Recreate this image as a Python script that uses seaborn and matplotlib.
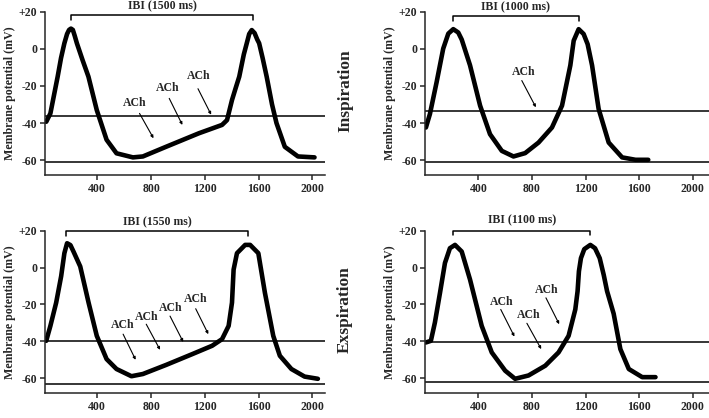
import matplotlib
matplotlib.use('Agg')
import matplotlib.pyplot as plt
import seaborn as sns
import pandas as pd

# ---- data ----
# top left: inspiration, IBI 1500 ms
insp_a_t = [20, 51, 105, 130, 155, 175, 190, 204, 218, 232, 248, 290, 334, 396, 469, 543, 665, 739, 911,
            1156, 1328, 1365, 1402, 1430, 1456, 1490, 1512, 1530, 1549, 1570, 1590, 1604, 1630, 1660,
            1700, 1733, 1795, 1893, 2016]
insp_a_v = [-39.3, -34.8, -15, -5, 3, 8, 10.2, 10.9, 10.2, 7, 3, -6, -15, -33, -49, -56.3, -58.5, -58, -52.8,
            -45.5, -41, -38.4, -27.6, -21, -15, -3, 3, 8, 10.1, 8.5, 5, 3, -5, -15,
            -30, -40, -52.8, -58, -58.5]
insp_a_levels = [-36.2, -60.9]
insp_a_bracket = [204, 1560]
insp_a_ach_text = [(678, -29.4), (923, -21.3), (1156, -14.7)]
insp_a_ach_arrow = [(714, -34.8, 818, -48.2), (935, -26.7, 1033, -41), (1149, -21.5, 1247, -35.5)]

# top right: inspiration, IBI 1000 ms
insp_b_t = [9, 39, 89, 138, 176, 213, 250, 276, 338, 413, 487, 575, 662, 749, 849, 949, 1024,
            1086, 1111, 1148, 1185, 1215, 1248, 1297, 1372, 1472, 1572, 1667]
insp_b_v = [-42.4, -35.1, -17.9, 0.1, 8.2, 10.6, 8.8, 5, -8.9, -30.6, -46, -55, -58, -56.2, -50.5, -42.4, -30.6,
            -8.9, 4.4, 10.6, 8, 2.5, -8.9, -32.4, -50.5, -58.5, -59.8, -59.8]
insp_b_levels = [-33.3, -60.8]
insp_b_bracket = [209, 1148]
insp_b_ach_text = [(736, -12.5)]
insp_b_ach_arrow = [(724, -17.1, 829, -31.5)]

# bottom left: expiration, IBI 1550 ms
exp_a_t = [20, 51, 94, 131, 155, 175, 200, 224, 273, 335, 396, 469, 543, 654, 739, 911, 1107,
           1254, 1328, 1377, 1402, 1414, 1439, 1500, 1537, 1598, 1647, 1709, 1758, 1844, 1942, 2041]
exp_a_v = [-39.7, -31.6, -19, -4.7, 7.8, 13.2, 12.2, 8.5, 0.6, -19, -37, -49.6, -55, -58.9, -57.7, -52.8, -46.9,
           -42.4, -38.8, -31.6, -19, -1.1, 7.8, 12.3, 12.3, 7.8, -13.7, -37, -47.8, -55, -59.1, -60.3]
exp_a_levels = [-40, -63]
exp_a_bracket = [169, 1520]
exp_a_ach_text = [(592, -31.3), (764, -26.6), (948, -21.8), (1132, -17.3)]
exp_a_ach_arrow = [(592, -36.1, 685, -50), (764, -30.7, 867, -44.6),
                   (941, -26.3, 1039, -40.3), (1132, -22.3, 1226, -36.1)]

# bottom right: expiration, IBI 1100 ms
exp_b_t = [9, 46, 76, 114, 151, 188, 226, 276, 338, 425, 500, 600, 674, 774, 899, 998,
           1073, 1123, 1140, 1150, 1165, 1190, 1235, 1270, 1305, 1335, 1360, 1409, 1459, 1522, 1622, 1721]
exp_b_v = [-40.6, -39.7, -29.8, -13.7, 2.5, 10.5, 12.3, 8.7, -6.5, -31.6, -46, -55.9, -60.3, -58.5, -53.2, -46,
           -37, -22.7, -12.8, -2, 5.1, 10, 12.3, 10.5, 5.1, -4, -12.8, -25, -44.2, -55, -59.4, -59.4]
exp_b_levels = [-40.3, -61.8]
exp_b_bracket = [213, 1235]
exp_b_ach_text = [(575, -18.7), (774, -25.9), (911, -12.3)]
exp_b_ach_arrow = [(567, -22.7, 669, -37.4), (762, -30.2, 869, -44.2), (904, -16.4, 1003, -30.7)]

ibi_labels = ['IBI (1500 ms)', 'IBI (1000 ms)', 'IBI (1550 ms)', 'IBI (1100 ms)']
x_ticks = [400, 800, 1200, 1600, 2000]
y_ticks = [-60, -40, -20, 0, 20]
y_ticklabels = ['-60', '-40', '-20', '0', '+20']

sns.set_style('ticks')
plt.rcParams['font.family'] = ['Liberation Serif', 'DejaVu Serif']
plt.rcParams['font.weight'] = 'bold'


def draw_panel(ax, t, v, levels, bracket, ibi_label, ach_text, ach_arrow, xlim, bracket_y):
    df = pd.DataFrame({'t': t, 'v': v})
    sns.lineplot(data=df, x='t', y='v', ax=ax, color='black', lw=3.3, sort=False,
                 estimator=None, solid_joinstyle='round', solid_capstyle='round')
    for lev in levels:
        ax.axhline(lev, color='black', lw=1.1)
    # IBI bracket
    x0, x1 = bracket
    ytop, ybot, ytxt = bracket_y
    ax.plot([x0, x0, x1, x1], [ybot, ytop, ytop, ybot], color='black', lw=1.1, clip_on=False)
    ax.text((x0 + x1) / 2, ytxt, ibi_label, ha='center', va='center', fontsize=8.5,
            fontweight='bold', clip_on=False)
    for (tx, ty), (ax0, ay0, ax1, ay1) in zip(ach_text, ach_arrow):
        ax.text(tx, ty, 'ACh', ha='center', va='center', fontsize=8.5, fontweight='bold')
        ax.annotate('', xy=(ax1, ay1), xytext=(ax0, ay0),
                    arrowprops=dict(arrowstyle='-|>', color='black', lw=0.8, mutation_scale=4,
                                    shrinkA=0, shrinkB=0))
    ax.set_xlim(*xlim)
    ax.set_ylim(-68, 20)
    ax.set_xticks(x_ticks)
    ax.set_yticks(y_ticks)
    ax.set_yticklabels(y_ticklabels)
    ax.tick_params(labelsize=8.5, length=3.5, width=1.1, pad=2, direction='out')
    for lab in ax.get_xticklabels() + ax.get_yticklabels():
        lab.set_fontweight('bold')
    ax.set_xlabel('')
    ax.set_ylabel('Membrane potential (mV)', fontsize=8.6, fontweight='bold', labelpad=2)
    sns.despine(ax=ax)
    ax.spines['left'].set_linewidth(1.1)
    ax.spines['bottom'].set_linewidth(1.1)
    ax.spines['left'].set_bounds(-68, 20)


fig = plt.figure(figsize=(7.09, 4.18), dpi=100)
ax_tl = fig.add_axes([0.0635, 0.5813, 0.3949, 0.3907])
ax_tr = fig.add_axes([0.5994, 0.5813, 0.4006, 0.3907])
ax_bl = fig.add_axes([0.0635, 0.0598, 0.3949, 0.3883])
ax_br = fig.add_axes([0.5994, 0.0598, 0.4006, 0.3883])

draw_panel(ax_tl, insp_a_t, insp_a_v, insp_a_levels, insp_a_bracket, ibi_labels[0],
           insp_a_ach_text, insp_a_ach_arrow, (11, 2094), (18.2, 15.3, 22.7))
draw_panel(ax_tr, insp_b_t, insp_b_v, insp_b_levels, insp_b_bracket, ibi_labels[1],
           insp_b_ach_text, insp_b_ach_arrow, (2, 2120), (17.8, 15.1, 22.2))
draw_panel(ax_bl, exp_a_t, exp_a_v, exp_a_levels, exp_a_bracket, ibi_labels[2],
           exp_a_ach_text, exp_a_ach_arrow, (11, 2094), (19.8, 17.1, 24.3))
draw_panel(ax_br, exp_b_t, exp_b_v, exp_b_levels, exp_b_bracket, ibi_labels[3],
           exp_b_ach_text, exp_b_ach_arrow, (2, 2120), (20.0, 17.7, 25.4))

fig.text(345 / 709, 1 - 91 / 418, 'Inspiration', rotation=90, ha='center', va='center',
         fontsize=12.5, fontweight='bold')
fig.text(345 / 709, 1 - 310 / 418, 'Exspiration', rotation=90, ha='center', va='center',
         fontsize=12.5, fontweight='bold')

fig.savefig('out.png', dpi=100)
